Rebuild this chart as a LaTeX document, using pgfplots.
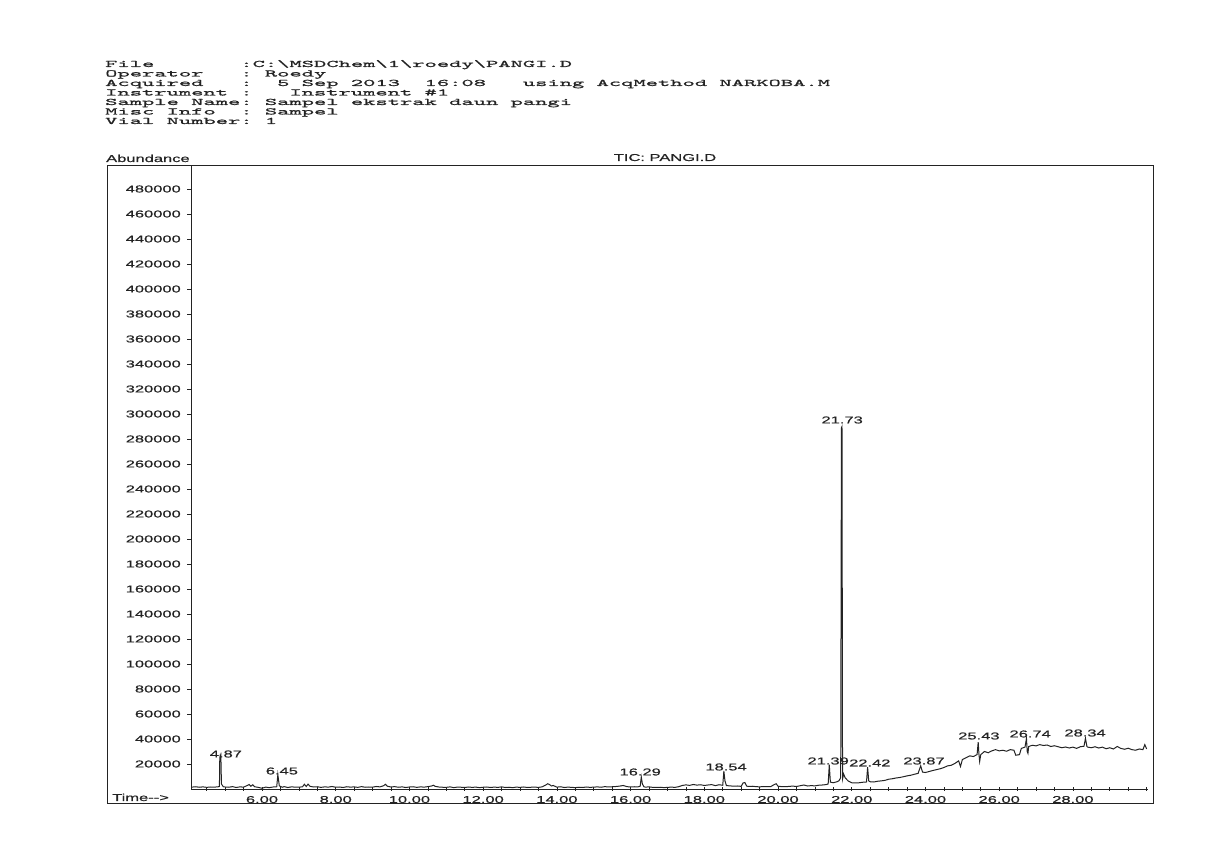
\documentclass[border=0pt]{standalone}
\usepackage{fontspec}
\usepackage{pgfplots}
\pgfplotsset{compat=1.18}
\newfontfamily\axfont[FakeStretch=1.65,FakeBold=0.6]{Liberation Sans}
\newfontfamily\hdrfont[FakeStretch=2.34,FakeBold=1.2]{Latin Modern Mono}
\definecolor{ink}{RGB}{35,35,35}
\newcommand{\axf}{\axfont\fontsize{10}{10}\selectfont}
\begin{document}
\begin{tikzpicture}
\path[use as bounding box] (0pt,0pt) rectangle (1229pt,843pt);
% header block (image y -> 843 - y)
\begin{scope}[every node/.style={anchor=base west,inner sep=0pt,text=ink,font=\hdrfont\fontsize{10}{10}\selectfont}]
\node at (105pt,776pt) {File~~~~~~~:C:\textbackslash MSDChem\textbackslash 1\textbackslash roedy\textbackslash PANGI.D};
\node at (105pt,766.5pt) {Operator~~~:~Roedy};
\node at (105pt,757pt) {Acquired~~~:~~5~Sep~2013~~16:08~~~using~AcqMethod~NARKOBA.M};
\node at (105pt,747.5pt) {Instrument~:~~~Instrument~\#1};
\node at (105pt,738pt) {Sample~Name:~Sampel~ekstrak~daun~pangi};
\node at (105pt,728.5pt) {Misc~Info~~:~Sampel};
\node at (105pt,719pt) {Vial~Number:~1};
\end{scope}
% outer frame
\draw[ink,line width=0.8pt] (107pt,40pt) rectangle (1153pt,678pt);
\node[anchor=base west,inner sep=0pt,text=ink,font=\axf] at (106pt,681pt) {Abundance};
\node[anchor=base,inner sep=0pt,text=ink,font=\axf] at (665pt,682pt) {TIC: PANGI.D};
\node[anchor=base west,inner sep=0pt,text=ink,font=\axf] at (112pt,42pt) {Time-{}-{}>};
\begin{axis}[
  at={(191pt,54pt)}, anchor=south west,
  scale only axis, width=957pt, height=624pt,
  xmin=4.074, xmax=30.037, ymin=0, ymax=499200,
  axis x line=bottom, axis y line=left,
  axis line style={-,ink,line width=0.8pt},
  clip=false,
  scaled y ticks=false,
  xtick={6,8,...,28},
  minor xtick={4.5,5,...,30},
  ytick={20000,40000,...,480000},
  tick align=center,
  major tick length=4pt, minor tick length=4pt,
  tick style={ink,line width=0.6pt},
  y tick style={xshift=-2pt},
  ticklabel style={font=\axf,text=ink},
  xticklabel={\pgfmathprintnumber[fixed,fixed zerofill,precision=2,assume math mode=true]{\tick}},
  yticklabel={\pgfmathprintnumber[fixed,1000 sep={},assume math mode=true]{\tick}},
  xticklabel style={anchor=base,inner sep=0pt,yshift=-12pt},
  yticklabel style={anchor=east,inner sep=0pt,xshift=-8pt},
]
\addplot[ink,line width=1pt] coordinates {
(4.10,1500)(4.20,1800)(4.30,1400)(4.40,1700)(4.50,1300)(4.60,1600)(4.70,1500)(4.80,1700)
(4.845,2000)(4.855,25000)(4.865,26500)(4.875,24000)(4.885,25500)(4.90,4000)(4.95,1800)(5.00,1600)
(5.1,1400)(5.2,1900)(5.3,1200)(5.4,1700)(5.5,1500)(5.6,2800)(5.65,3600)(5.7,2200)(5.75,3400)(5.8,1800)(5.9,1300)
(6.0,600)(6.1,1500)(6.2,1100)(6.3,1600)(6.40,1800)(6.43,11500)(6.45,7000)(6.47,2500)(6.55,1400)(6.6,1900)
(6.7,1200)(6.8,1700)(6.9,1500)(7.0,1400)(7.1,1800)(7.15,3800)(7.2,2000)(7.25,3900)(7.3,2200)(7.4,1600)
(7.5,1800)(7.6,1300)(7.7,1700)(7.8,1500)(7.9,2000)(8.0,1400)(8.1,1600)(8.2,1200)(8.3,1800)(8.4,1500)
(8.5,1700)(8.6,1300)(8.7,1900)(8.8,1400)(8.9,1600)(9.0,1500)(9.1,2000)(9.2,1700)(9.3,2600)(9.35,3800)
(9.4,2200)(9.5,1600)(9.6,1900)(9.7,1400)(9.8,1700)(9.9,1200)(10.0,1600)(10.1,1800)(10.2,1300)(10.3,1700)
(10.4,1500)(10.5,1900)(10.6,2400)(10.65,3000)(10.7,2100)(10.8,1600)(10.9,1400)(11.0,1300)(11.1,1700)
(11.2,1100)(11.3,1500)(11.4,1400)(11.5,1200)(11.6,1600)(11.7,1300)(11.8,1500)(11.9,1100)(12.0,1400)
(12.1,1600)(12.2,1200)(12.3,1500)(12.4,1300)(12.5,1700)(12.6,1200)(12.7,1400)(12.8,1100)(12.9,1500)
(13.0,1300)(13.1,1600)(13.2,1200)(13.3,1400)(13.4,1500)(13.5,1300)(13.6,1700)(13.7,3200)(13.75,4200)
(13.8,3600)(13.85,2400)(13.9,2800)(14.0,1500)(14.1,1800)(14.2,1200)(14.3,1500)(14.4,1300)(14.5,1100)
(14.6,1400)(14.7,1200)(14.8,1600)(14.9,1300)(15.0,1500)(15.1,1700)(15.2,1400)(15.3,1900)(15.4,1600)
(15.5,1800)(15.6,2000)(15.7,2300)(15.8,2800)(15.9,1900)(16.0,1600)(16.1,1800)(16.2,1700)(16.26,2200)
(16.29,9600)(16.32,4000)(16.36,1800)(16.4,1500)(16.5,1700)(16.6,1300)(16.7,1200)(16.8,1400)(16.9,1100)
(17.0,1300)(17.1,1500)(17.2,1300)(17.3,1800)(17.4,2800)(17.5,3300)(17.6,2900)(17.7,3600)(17.8,3100)
(17.9,3400)(18.0,2800)(18.1,3200)(18.2,3500)(18.3,2700)(18.4,3400)(18.5,3000)(18.53,14500)(18.56,6500)
(18.6,2700)(18.7,2500)(18.8,2200)(18.9,2400)(19.0,2100)(19.05,4800)(19.1,5200)(19.15,2300)(19.2,2000)
(19.3,2200)(19.4,1900)(19.5,1700)(19.6,2000)(19.7,1800)(19.8,1900)(19.9,3600)(19.95,4200)(20.0,2200)
(20.1,1900)(20.2,1800)(20.3,2100)(20.4,2300)(20.5,2000)(20.6,2600)(20.7,3200)(20.75,2800)(20.8,2400)
(20.9,2700)(21.0,2500)(21.1,3000)(21.2,3200)(21.3,3500)(21.36,4000)(21.39,19500)(21.42,5500)(21.5,5000)
(21.6,5800)(21.65,6500)(21.70,9000)(21.72,289000)(21.735,290000)(21.75,8000)(21.78,12000)(21.82,9000)
(21.9,6500)(22.0,5000)(22.1,4800)(22.2,5000)(22.3,5400)(22.4,5600)(22.43,17500)(22.46,6500)(22.5,5800)
(22.6,5600)(22.7,6200)(22.8,6500)(22.9,6900)(23.0,7800)(23.1,8200)(23.2,8800)(23.3,9200)(23.4,9800)
(23.5,10500)(23.6,11000)(23.7,11800)(23.8,12500)(23.87,18500)(23.92,13500)(24.0,13200)(24.1,14000)
(24.2,14800)(24.3,15500)(24.4,16200)(24.5,17200)(24.6,18500)(24.7,19000)(24.8,20500)(24.9,22500)
(24.95,18000)(25.0,23500)(25.1,25000)(25.2,26500)(25.3,26000)(25.4,27500)(25.43,37500)(25.45,28000)
(25.47,22000)(25.5,27500)(25.6,30000)(25.7,29000)(25.8,30500)(25.9,31500)(26.0,30500)(26.1,31000)
(26.2,30200)(26.3,31500)(26.4,31000)(26.45,27000)(26.55,27500)(26.6,32500)(26.7,33500)(26.74,40500)
(26.76,30000)(26.78,28500)(26.8,34000)(26.9,35000)(27.0,34500)(27.1,35500)(27.2,34800)(27.3,35200)
(27.4,34000)(27.5,34600)(27.6,33800)(27.7,33000)(27.8,33600)(27.9,32800)(28.0,33500)(28.1,32500)
(28.2,33800)(28.3,34200)(28.34,40500)(28.38,34000)(28.4,33500)(28.5,33000)(28.6,33800)(28.7,32800)
(28.8,33500)(28.9,32200)(29.0,33000)(29.1,32000)(29.2,34000)(29.3,32500)(29.4,31800)(29.5,32600)
(29.6,31500)(29.7,31000)(29.8,32000)(29.9,31500)(29.95,35500)(30.0,32000)
};
\begin{scope}[every node/.style={anchor=center,inner sep=0pt,text=ink,font=\axf}]
\node at (axis cs:5.02,28000) {4.87};
\node at (axis cs:6.54,14400) {6.45};
\node at (axis cs:16.26,13600) {16.29};
\node at (axis cs:18.59,17600) {18.54};
\node at (axis cs:21.36,22400) {21.39};
\node at (axis cs:22.49,20800) {22.42};
\node at (axis cs:23.96,22400) {23.87};
\node at (axis cs:25.45,42400) {25.43};
\node at (axis cs:26.84,44000) {26.74};
\node at (axis cs:28.33,44800) {28.34};
\node at (axis cs:21.74,295200) {21.73};
\end{scope}
\end{axis}
\end{tikzpicture}
\end{document}
